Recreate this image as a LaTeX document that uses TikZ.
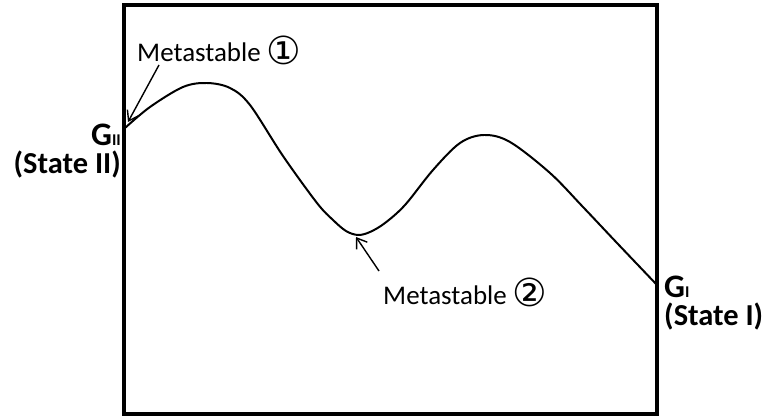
\documentclass[tikz,border=0pt]{standalone}
\usepackage{fontspec}
\setmainfont{Carlito}
\newfontfamily\circfont{DejaVu Sans}
\usetikzlibrary{positioning, arrows.meta}
\newcommand{\circnum}[1]{\raisebox{-2.5pt}{\circfont\fontsize{33}{33}\selectfont #1}}
\newcommand{\bigG}{{\fontsize{28}{28}\selectfont G}}
\tikzset{
  metalabel/.style={inner sep=0pt, font=\fontsize{23}{27}\selectfont},
  statelabel/.style={inner sep=0pt, font=\fontsize{26}{24}\selectfont\bfseries},
  energycurve/.style={line width=1.7pt},
  framebox/.style={line width=2.6pt},
}

\begin{document}
\begin{tikzpicture}[
    x=0.03cm, y=0.03cm,
    arrow/.style={-{Straight Barb[length=8pt,width=11pt]}, line width=1.2pt},
  ]
    \useasboundingbox (0,0) rectangle (767,419);

    % Frame
    \draw[framebox] (124,5) rectangle (657,414);

    % Free energy curve
    \coordinate (s2) at (125,291);
    \coordinate (p1) at (207,336);
    \coordinate (m2) at (358,184);
    \coordinate (p2) at (484,284);
    \coordinate (s1) at (657,134);
    \draw[energycurve] plot[smooth, tension=0.55] coordinates {
        (s2) (150,312) (183,332) (p1) (230,331) (250,314) (283,263)
        (317,216) (333,199) (346,188) (m2) (370,187) (385,196) (405,214)
        (433,249) (460,276) (p2) (510,277) (550,246) (583,212) (617,176) (s1)};

    % Metastable states
    \node[metalabel, anchor=base west] (ms1) at (137,357) {Metastable \circnum{①}};
    \node[metalabel, anchor=base west] (ms2) at (383,115) {Metastable \circnum{②}};
    \coordinate (t1) at (159,354);
    \coordinate (h1) at (128,297);
    \coordinate (t2) at (379,148);
    \coordinate (h2) at (356,182);
    \draw[arrow] (t1) -- (h1);
    \draw[arrow] (t2) -- (h2);

    % End states
    \node[statelabel, align=right, anchor=north east] (gII) at (121,295)
         {\bigG{\fontsize{14}{14}\selectfont II}\\(State II)};
    \node[statelabel, align=left, anchor=north west] (gI) at (664,143)
         {\bigG{\fontsize{14}{14}\selectfont I}\\(State I)};
  \end{tikzpicture}
\end{document}
